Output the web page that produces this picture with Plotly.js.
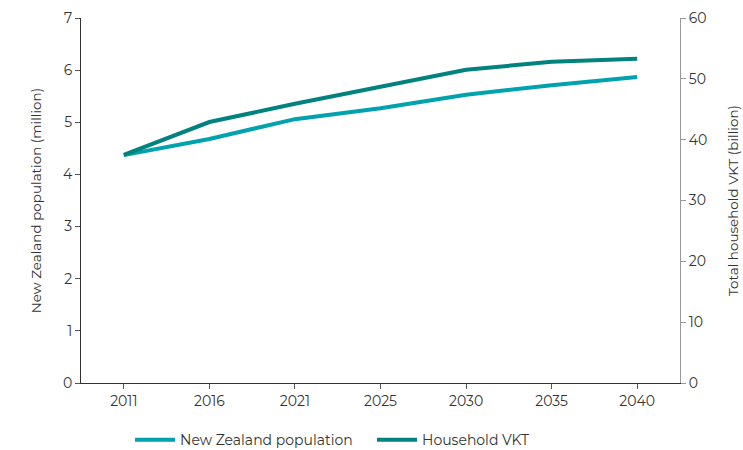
<!DOCTYPE html>
<html><head><meta charset="utf-8">
<script src="https://cdn.plot.ly/plotly-3.0.1.min.js"></script>
<style>html,body{margin:0;padding:0;background:#fff}</style>
</head><body>
<div id="chart" style="width:743px;height:450px"></div>
<script>
var years = ['2011','2016','2021','2025','2030','2035','2040'];
var population = [4.37, 4.68, 5.06, 5.27, 5.53, 5.71, 5.87];
var householdVKT = [37.5, 42.9, 45.9, 48.7, 51.5, 52.8, 53.3];
var seriesNames = ['New Zealand population', 'Household VKT'];

var font = {family: 'Montserrat, "Open Sans", sans-serif', size: 14, color: '#333'};
var traces = [
  {x: years, y: population, name: seriesNames[0], type: 'scatter', mode: 'lines',
   line: {color: '#00A3AD', width: 4}, yaxis: 'y'},
  {x: years, y: householdVKT, name: seriesNames[1], type: 'scatter', mode: 'lines',
   line: {color: '#00827F', width: 4}, yaxis: 'y2'}
];
var layout = {
  width: 743, height: 450,
  margin: {l: 81, r: 63, t: 18, b: 67},
  paper_bgcolor: '#fff', plot_bgcolor: '#fff',
  font: font,
  showlegend: true,
  legend: {orientation: 'h', xref: 'container', yref: 'container', x: 0.175, xanchor: 'left', y: 0.022, yanchor: 'middle',
           font: {family: font.family, size: 14, color: '#333'}, entrywidth: 187, entrywidthmode: 'pixels',
           tracegroupgap: 0, itemwidth: 40},
  xaxis: {type: 'category', showgrid: false, zeroline: false, showline: true, linecolor: '#333', linewidth: 1,
          ticks: 'outside', ticklen: 5, tickcolor: '#555', range: [-0.5, 6.5], tickfont: {size: 14}, automargin: false},
  yaxis: {range: [0, 7], dtick: 1, showgrid: false, zeroline: false, showline: true, linecolor: '#333', linewidth: 1,
          ticks: 'outside', ticklen: 5, tickcolor: '#555', automargin: false,
          title: {text: 'New Zealand population (million)', font: {size: 13.5}, standoff: 18}},
  yaxis2: {range: [0, 60], dtick: 10, overlaying: 'y', side: 'right', showgrid: false, zeroline: false,
           showline: true, linecolor: '#999', linewidth: 1, ticks: 'outside', ticklen: 5, tickcolor: '#999', automargin: false,
           title: {text: 'Total household VKT (billion)', font: {size: 13.5}, standoff: 22}}
};
Plotly.newPlot('chart', traces, layout, {displayModeBar: false, staticPlot: true});
</script>
</body></html>
